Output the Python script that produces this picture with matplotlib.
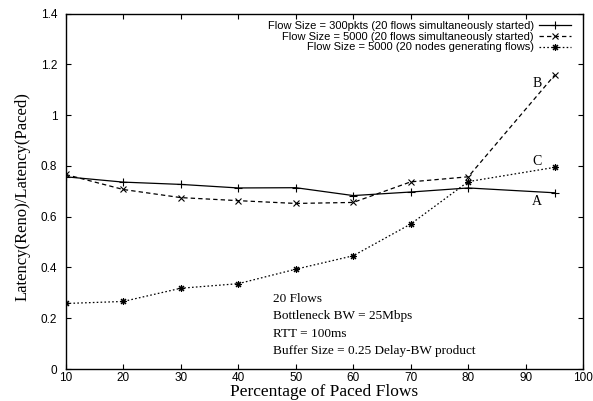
import matplotlib
matplotlib.use("Agg")
import matplotlib.pyplot as plt
from matplotlib.ticker import FormatStrFormatter, MultipleLocator

# ---- data ----
pct_paced = [10, 20, 30, 40, 50, 60, 70, 80, 95]
flow300_sim = [0.757, 0.736, 0.727, 0.713, 0.714, 0.683, 0.697, 0.713, 0.694]
flow5000_sim = [0.766, 0.707, 0.675, 0.663, 0.652, 0.656, 0.737, 0.757, 1.157]
flow5000_nodes = [0.258, 0.266, 0.318, 0.336, 0.393, 0.446, 0.571, 0.738, 0.794]

labels = [
    "Flow Size = 300pkts (20 flows simultaneously started)",
    "Flow Size = 5000 (20 flows simultaneously started)",
    "Flow Size = 5000 (20 nodes generating flows)",
]
curve_tags = ["A", "B", "C"]
info_lines = [
    "20 Flows",
    "Bottleneck BW = 25Mbps",
    "RTT = 100ms",
    "Buffer Size = 0.25 Delay-BW product",
]

SANS = "Liberation Sans"
SERIF = "Liberation Serif"

fig = plt.figure(figsize=(5.93, 4.01), dpi=100)
ax = fig.add_axes([0.1108, 0.0798, 0.8728, 0.8865])

ax.plot(pct_paced, flow300_sim, color="black", lw=0.9, marker="+",
        ms=5.5, mew=0.8, label=labels[0])
ax.plot(pct_paced, flow5000_sim, color="black", lw=0.9, marker="x",
        ms=4, mew=0.8, dashes=(3.5, 2.5), label=labels[1])
ax.plot(pct_paced, flow5000_nodes, color="black", lw=0.9, marker=(8, 2, 0),
        ms=5, mew=0.8, dashes=(1.3, 1.8), label=labels[2])

ax.set_xlim(10, 100)
ax.set_ylim(0, 1.4)
ax.xaxis.set_major_locator(MultipleLocator(10))
ax.yaxis.set_major_locator(MultipleLocator(0.2))
ax.yaxis.set_major_formatter(FormatStrFormatter("%g"))
ax.tick_params(direction="in", length=3.5, width=0.8, top=True, right=True,
               labelsize=8.5)
ax.tick_params(axis="y", pad=6)
ax.tick_params(axis="x", pad=2)
for t in ax.get_xticklabels() + ax.get_yticklabels():
    t.set_fontfamily(SANS)
for s in ax.spines.values():
    s.set_linewidth(1.0)

# x label sits right under the tick labels, as in the reference
fig.text(0.5472, 0.013, "Percentage of Paced Flows", ha="center", va="baseline",
         family=SERIF, fontsize=12.5)
fig.text(0.038, 0.51, "Latency(Reno)/Latency(Paced)", rotation=90, ha="center",
         va="center", family=SERIF, fontsize=12)

# curve tags
ax.text(91.9, 1.125, curve_tags[1], ha="center", va="center", family=SERIF, fontsize=10)
ax.text(91.9, 0.819, curve_tags[2], ha="center", va="center", family=SERIF, fontsize=10)
ax.text(91.9, 0.659, curve_tags[0], ha="center", va="center", family=SERIF, fontsize=10)

# experiment settings block
for i, line in enumerate(info_lines):
    ax.text(46.0, 0.265 - i * 0.0692, line, ha="left", va="baseline",
            family=SERIF, fontsize=9.5)

leg = ax.legend(loc="upper right", bbox_to_anchor=(0.9763, 0.978),
                borderaxespad=0, borderpad=0, frameon=False, markerfirst=False,
                handlelength=2.9, handletextpad=0.45, labelspacing=0.05,
                numpoints=1, prop={"family": SANS, "size": 8})

fig.savefig("out.png", dpi=100)
